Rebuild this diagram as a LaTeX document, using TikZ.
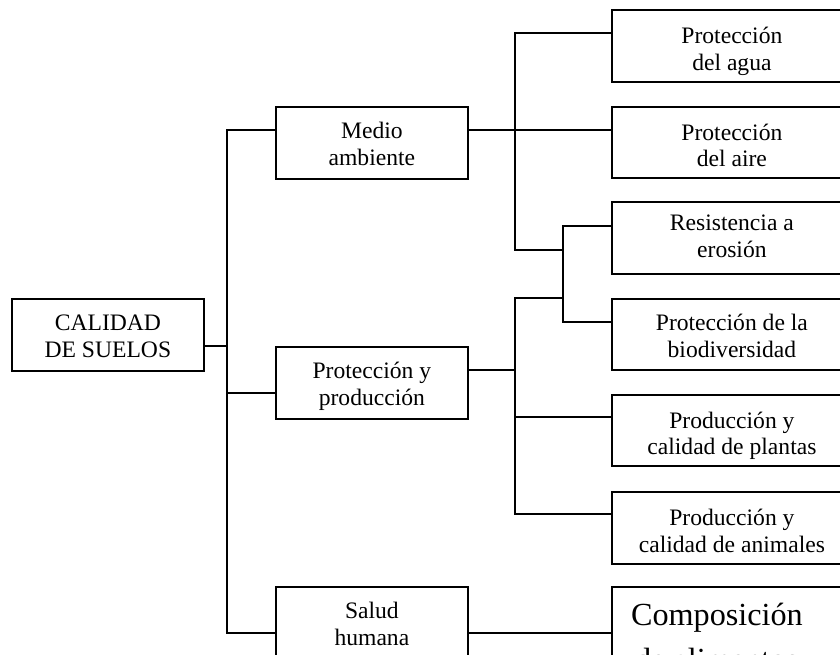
\documentclass[tikz,border=0pt]{standalone}
\usepackage{fontspec}
\setmainfont{Liberation Serif}
\begin{document}
\begin{tikzpicture}[x=1pt,y=-1pt,
  box/.style={draw, line width=1.8pt, inner sep=0pt, align=center, anchor=north west,
    text height=59pt, text depth=13pt, font=\fontsize{23.6}{27}\selectfont},
  midbox/.style={box, minimum width=192pt},
  rbox/.style={box, minimum width=240pt},
  conn/.style={line width=1.8pt}]
\useasboundingbox (0,0) rectangle (840,654);
\clip (0,0) rectangle (840,654);
% main boxes
\node[midbox] (calidad) at (11,298) {CALIDAD\\DE SUELOS};
\node[midbox] (medio) at (275,106) {Medio\\ambiente};
\node[midbox] (prot) at (275,346) {Protección y\\producción};
\node[midbox] (salud) at (275,586) {Salud\\humana};
% right boxes
\node[rbox, text height=61pt, text depth=11pt] (r1) at (611,9) {Protección\\del agua};
\node[rbox, text height=60pt, text depth=11pt, font=\fontsize{23.6}{26}\selectfont] (r2) at (611,106) {Protección\\del aire};
\node[rbox, text height=56pt, text depth=16pt] (r3) at (611,201) {Resistencia a\\erosión};
\node[rbox, text height=59pt, text depth=12pt] (r4) at (611,298) {Protección de la\\biodiversidad};
\node[rbox, text height=60pt, text depth=11pt, font=\fontsize{23.6}{26}\selectfont] (r5) at (611,394) {Producción y\\calidad de plantas};
\node[rbox, text height=61pt, text depth=11pt] (r6) at (611,491) {Producción y\\calidad de animales};
\node[rbox, text height=84pt, text depth=15pt, font=\fontsize{32.2}{45}\selectfont] (r7) at (611,586) {Composición\hspace*{30pt}\\de alimentos\hspace*{30pt}};
% junction coordinates
\coordinate (j0) at (227,346);
\coordinate (tA) at (227,130);
\coordinate (tB) at (227,393);
\coordinate (tC) at (227,633);
\coordinate (mA) at (515,33);
\coordinate (mB) at (515,130);
\coordinate (mC) at (515,250);
\coordinate (kA) at (563,226);
\coordinate (kB) at (563,250);
\coordinate (kC) at (563,298);
\coordinate (kD) at (563,322);
\coordinate (pA) at (515,298);
\coordinate (pB) at (515,370);
\coordinate (pC) at (515,417);
\coordinate (pD) at (515,514);
\coordinate (sA) at (467,633);
% connectors
\draw[conn] (calidad.east |- j0) -- (j0);
\draw[conn] (medio.west |- tA) -- (tA) -- (tC) -- (salud.west |- tC);
\draw[conn] (tB) -- (prot.west |- tB);
\draw[conn] (medio.east |- mB) -- (r2.west |- mB);
\draw[conn] (r1.west |- mA) -- (mA) -- (mC) -- (kB);
\draw[conn] (r3.west |- kA) -- (kA) -- (kD) -- (r4.west |- kD);
\draw[conn] (kC) -- (pA) -- (pD) -- (r6.west |- pD);
\draw[conn] (prot.east |- pB) -- (pB);
\draw[conn] (pC) -- (r5.west |- pC);
\draw[conn] (salud.east |- sA) -- (r7.west |- sA);
\end{tikzpicture}
\end{document}
